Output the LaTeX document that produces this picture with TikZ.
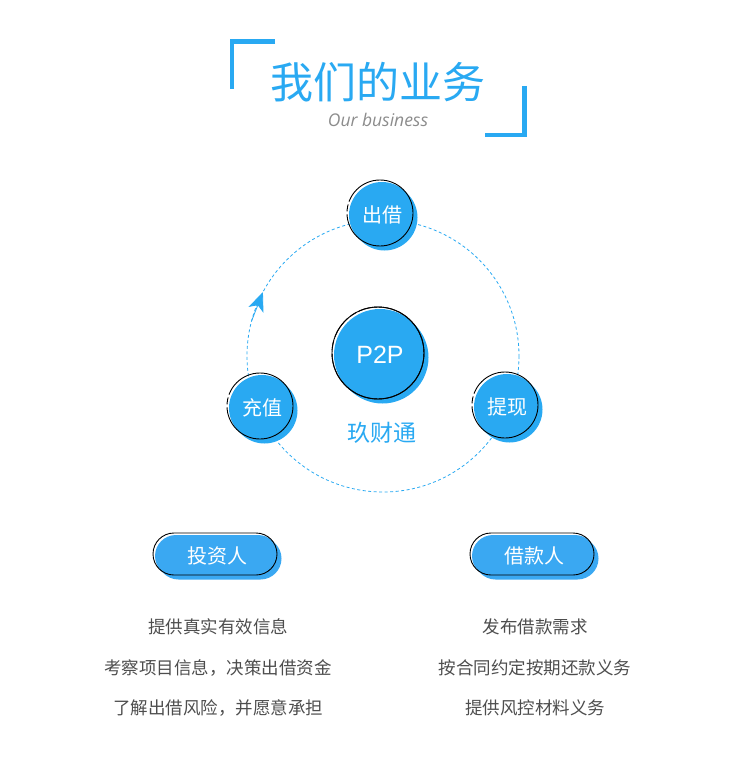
\documentclass[tikz,border=0pt]{standalone}
\usepackage{fontspec}
\setmainfont{Noto Sans CJK SC}
\newfontfamily\enfont{Open Sans}
\newfontfamily\pfont{Liberation Sans}
\usetikzlibrary{arrows.meta,positioning}
\definecolor{bizblue}{HTML}{29A9F2}
\definecolor{pillblue}{HTML}{3AA8F2}
\definecolor{subgray}{HTML}{8C8C8C}
\definecolor{txtgray}{HTML}{4D4D4D}

\begin{document}
\begin{tikzpicture}[x=1pt,y=-1pt]
    \tikzstyle{bracket} = [draw=bizblue, line width=4.5pt]
    \tikzstyle{loop}    = [draw=bizblue, line width=0.8pt, dash pattern=on 3pt off 2.5pt]
    \tikzstyle{bubble}  = [shape=circle, fill=bizblue, text=white, inner sep=0pt, minimum size=66,
                           font=\fontsize{20}{20}\selectfont,
                           preaction={fill=bizblue, transform canvas={shift={(2.5pt,-2.5pt)}}},
                           postaction={draw=black, line width=0.9pt, dash pattern=on 92pt off 3pt on 7pt off 3pt on 300pt,
                                       transform canvas={shift={(-2pt,2pt)}}}]
    \tikzstyle{hub}     = [bubble, minimum size=92, font=\pfont\fontsize{25}{25}\selectfont,
                           postaction={draw=black, line width=0.9pt, dash pattern=on 128pt off 4pt on 9pt off 4pt on 400pt,
                                       transform canvas={shift={(-2pt,2pt)}}}]
    \tikzstyle{pill}    = [shape=rectangle, rounded corners=21pt, fill=pillblue, text=white, inner sep=0pt,
                           minimum width=124, minimum height=42, font=\fontsize{20}{20}\selectfont,
                           preaction={fill=pillblue, transform canvas={shift={(2.5pt,-2.5pt)}}},
                           postaction={draw=black, line width=0.9pt, transform canvas={shift={(-2pt,2pt)}}}]
    \tikzstyle{item}    = [text=txtgray, font=\fontsize{17.5}{17.5}\selectfont, inner sep=0pt, on grid]
    \useasboundingbox (0,0) rectangle (750,778);

    % heading
    \draw[bracket] (275,41.5) -- (232,41.5) -- (232,89);
    \draw[bracket] (524.7,86) -- (524.7,135) -- (485,135);
    \node (title) at (378,82) [text=bizblue, font=\fontsize{43}{43}\selectfont] {我们的业务};
    \node (subtitle) at (378,120) [text=subgray, font=\enfont\itshape\fontsize{17.5}{17.5}\selectfont] {Our business};

    % cycle
    \coordinate (ctr) at (383,356);
    \coordinate (tail) at ([shift={(195:136)}]ctr);
    \coordinate (head) at ([shift={(208:136)}]ctr);
    \draw[loop] (ctr) circle (136);
    \draw[draw=bizblue, line width=0.8pt, -{Stealth[length=19pt,width=16pt,inset=5pt]}] (tail) -- (head);

    \node (lend)   at (382,215) [bubble] {出借};
    \node (topup)  at (262,408) [bubble] {充值};
    \node (cash)   at (507,407) [bubble] {提现};
    \node (p2p)    at (380,355) [hub]    {P2P};
    \node (brand)  at (382,433) [text=bizblue, font=\fontsize{23}{23}\selectfont] {玖财通};

    % two roles
    \node (investor) at (217,556) [pill] {投资人};
    \node (borrower) at (534,556) [pill] {借款人};

    \node (inv1) at (218,627)           [item] {提供真实有效信息};
    \node (inv2) [item, below=40.5pt of inv1] {考察项目信息，决策出借资金};
    \node (inv3) [item, below=40.5pt of inv2] {了解出借风险，并愿意承担};

    \node (bor1) at (535,627)           [item] {发布借款需求};
    \node (bor2) [item, below=40.5pt of bor1] {按合同约定按期还款义务};
    \node (bor3) [item, below=40.5pt of bor2] {提供风控材料义务};
\end{tikzpicture}
\end{document}
